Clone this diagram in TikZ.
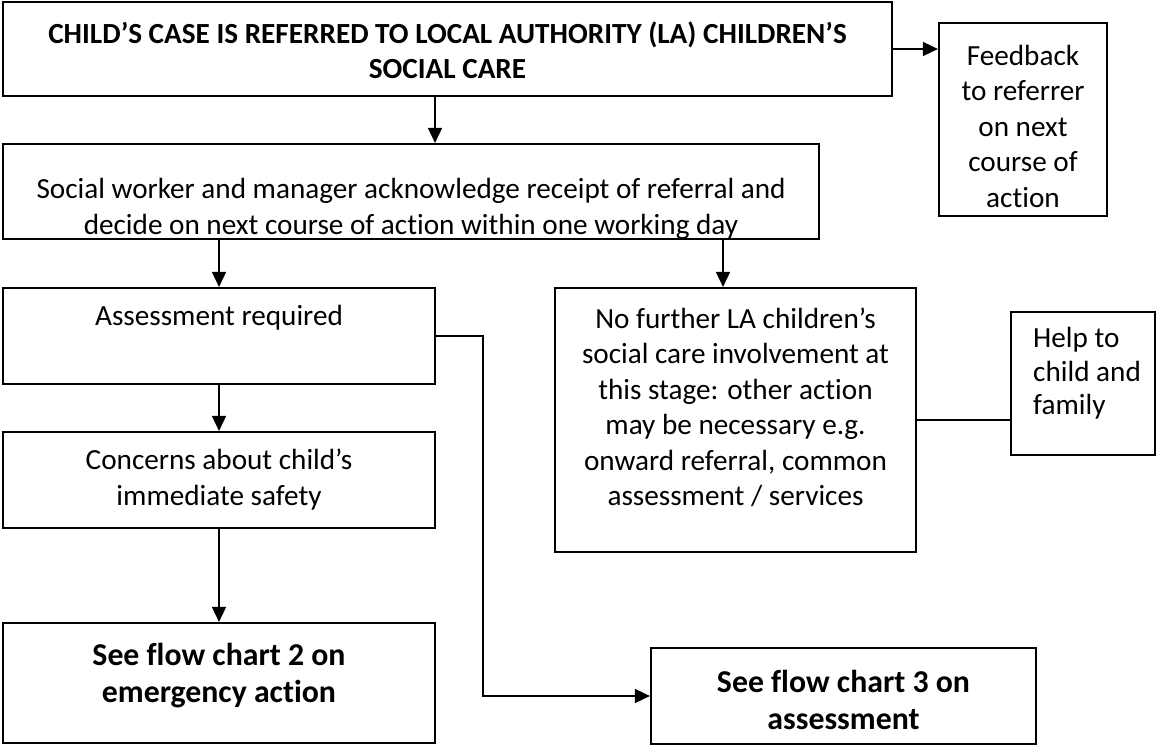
\documentclass[tikz,border=0pt]{standalone}
\usepackage{fontspec}
\setmainfont{Carlito}[Ligatures=NoCommon]
\usetikzlibrary{arrows.meta}
\begin{document}
\begin{tikzpicture}[x=1pt,y=1pt,
  box/.style={draw, line width=2.2pt, rectangle, inner sep=0pt},
  txt/.style={align=center, inner sep=0pt, font=\fontsize{29.2}{35.5}\selectfont},
  headtxt/.style={align=center, inner sep=0pt, font=\fontsize{29.2}{35}\selectfont\bfseries},
  bigtxt/.style={align=center, inner sep=0pt, font=\fontsize{31.8}{37.5}\selectfont\bfseries},
  arr/.style={line width=1.7pt, -{Triangle[length=15pt,width=14pt]}},
  link/.style={line width=1.7pt}]
\useasboundingbox (0,0) rectangle (1157,-747);

% boxes
\node[box, minimum width=889pt, minimum height=94pt]  (top)   at (447.5,-49)   {};
\node[box, minimum width=168pt, minimum height=193pt] (fb)    at (1023,-119.5) {};
\node[box, minimum width=816pt, minimum height=95pt]  (ack)   at (411,-191.5)  {};
\node[box, minimum width=432pt, minimum height=96pt]  (assess) at (219,-336)   {};
\node[box, minimum width=361pt, minimum height=264pt] (nofurther) at (735.5,-420) {};
\node[box, minimum width=144pt, minimum height=143pt] (help)  at (1083,-383.5) {};
\node[box, minimum width=432pt, minimum height=96pt]  (safety) at (219,-480)   {};
\node[box, minimum width=432pt, minimum height=120pt] (chart2) at (219,-683)   {};
\node[box, minimum width=385pt, minimum height=96pt]  (chart3) at (843.5,-696)  {};

% texts
\node[headtxt] (topt) at (447.5,-50) {CHILD’S CASE IS REFERRED TO LOCAL AUTHORITY (LA) CHILDREN’S\\SOCIAL CARE};
\node[txt] (fbt) at (1023,-126) {Feedback\\to referrer\\on next\\course of\\action};
\node[txt] (ackt) at (411,-209) {Social worker and manager acknowledge receipt of referral and\\decide on next course of action within one working day};
\node[txt] (assesst) at (219,-318) {Assessment required};
\node[txt] (nofurthert) at (735.5,-407.5) {No further LA children’s\\social care involvement at\\this stage: other action\\may be necessary e.g.\\onward referral, common\\assessment / services};
\node[txt, align=left, anchor=west, font=\fontsize{29.2}{33.5}\selectfont] (helpt) at (1033,-373.5) {Help to\\child and\\family};
\node[txt] (safetyt) at (219,-479.5) {Concerns about child’s\\immediate safety};
\node[bigtxt] (chart2t) at (219,-675.5) {See flow chart 2 on\\emergency action};
\node[bigtxt] (chart3t) at (843.5,-700) {See flow chart 3 on\\assessment};

% connector columns
\coordinate (c1) at (435,0);
\coordinate (c2) at (723,0);
\coordinate (bend) at (483,0);

% connectors
\draw[arr] (top.east) -- (top.east -| fb.west);
\draw[arr] (top.south -| c1) -- (ack.north -| c1);
\draw[arr] (ack.south -| assess.north) -- (assess.north);
\draw[arr] (ack.south -| c2) -- (nofurther.north -| c2);
\draw[arr] (assess.south) -- (safety.north);
\draw[arr] (safety.south) -- (chart2.north);
\draw[arr] (assess.east) -- (assess.east -| bend) -- (bend |- chart3.west) -- (chart3.west);
\draw[link] (nofurther.east) -- (nofurther.east -| help.west);
\end{tikzpicture}
\end{document}
